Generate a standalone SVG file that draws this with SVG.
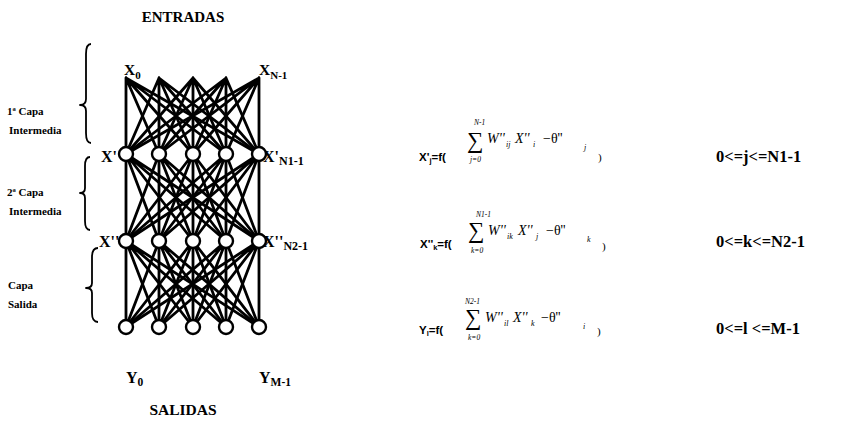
<svg xmlns="http://www.w3.org/2000/svg" width="865" height="424" viewBox="0 0 865 424">
<style>
.t{font-family:"Liberation Serif","Times New Roman",serif;font-weight:bold;fill:#000}
.s{font-family:"Liberation Sans",Arial,sans-serif;font-weight:bold;fill:#000}
.m{font-family:"Liberation Serif","Times New Roman",serif;font-style:italic;fill:#000}
.g{font-family:"Liberation Serif","Times New Roman",serif;fill:#000}
.c{fill:none;stroke:#000;stroke-width:2.8;stroke-linecap:round}
.n{fill:#fff;stroke:#000;stroke-width:2.4}
.b{fill:none;stroke:#000;stroke-width:1.8;stroke-linejoin:round}
</style>
<rect width="865" height="424" fill="#fff"/>
<text class="t" x="183" y="22" font-size="15" text-anchor="middle">ENTRADAS</text>
<text class="t" x="183" y="415" font-size="15.5" text-anchor="middle">SALIDAS</text>

<g id="braces">
<path class="b" d="M91 44 Q86 44 86 54 L86 99 Q86 105 80 105 Q86 105 86 111 L86 133 Q86 143 91 143"/>
<path class="b" d="M90 157 Q85 157 85 166 L85 188 Q85 193 80 193 Q85 193 85 198 L85 221 Q85 230 90 230"/>
<path class="b" d="M98 248 Q92 248 92 257 L92 283 Q92 288 86 288 Q92 288 92 293 L92 313 Q92 322 98 322"/>
<text class="t" x="7" y="115" font-size="11">1ª Capa</text>
<text class="t" x="9" y="134" font-size="11">Intermedia</text>
<text class="t" x="7" y="196" font-size="11">2ª Capa</text>
<text class="t" x="9" y="215" font-size="11">Intermedia</text>
<text class="t" x="8" y="289" font-size="11">Capa</text>
<text class="t" x="8" y="308" font-size="11">Salida</text>
</g>

<g id="connectors">
<path class="c" d="M126 78L126 154M126 78L159 154M126 78L193 154M126 78L226 154M126 78L259 154"/>
<path class="c" d="M159 78L126 154M159 78L159 154M159 78L193 154M159 78L226 154M159 78L259 154"/>
<path class="c" d="M193 78L126 154M193 78L159 154M193 78L193 154M193 78L226 154M193 78L259 154"/>
<path class="c" d="M226 78L126 154M226 78L159 154M226 78L193 154M226 78L226 154M226 78L259 154"/>
<path class="c" d="M259 78L126 154M259 78L159 154M259 78L193 154M259 78L226 154M259 78L259 154"/>
<path class="c" d="M126 154L126 241M126 154L159 241M126 154L193 241M126 154L226 241M126 154L259 241"/>
<path class="c" d="M159 154L126 241M159 154L159 241M159 154L193 241M159 154L226 241M159 154L259 241"/>
<path class="c" d="M193 154L126 241M193 154L159 241M193 154L193 241M193 154L226 241M193 154L259 241"/>
<path class="c" d="M226 154L126 241M226 154L159 241M226 154L193 241M226 154L226 241M226 154L259 241"/>
<path class="c" d="M259 154L126 241M259 154L159 241M259 154L193 241M259 154L226 241M259 154L259 241"/>
<path class="c" d="M126 241L126 327M126 241L159 327M126 241L193 327M126 241L226 327M126 241L259 327"/>
<path class="c" d="M159 241L126 327M159 241L159 327M159 241L193 327M159 241L226 327M159 241L259 327"/>
<path class="c" d="M193 241L126 327M193 241L159 327M193 241L193 327M193 241L226 327M193 241L259 327"/>
<path class="c" d="M226 241L126 327M226 241L159 327M226 241L193 327M226 241L226 327M226 241L259 327"/>
<path class="c" d="M259 241L126 327M259 241L159 327M259 241L193 327M259 241L226 327M259 241L259 327"/>
</g>

<g id="in0"><text class="t" x="124" y="75" font-size="15.5">X<tspan font-size="11" dy="4">0</tspan></text></g>
<g id="in4"><text class="t" x="259" y="75" font-size="15.5">X<tspan font-size="11" dy="4">N-1</tspan></text></g>

<g id="h1">
<text class="t" x="101" y="162" font-size="16">X'</text>
<text class="t" x="263" y="162" font-size="16">X'<tspan font-size="12" dy="3">N1-1</tspan></text>
<circle class="n" cx="126" cy="154" r="7"/><circle class="n" cx="159" cy="154" r="7"/><circle class="n" cx="193" cy="154" r="7"/><circle class="n" cx="226" cy="154" r="7"/><circle class="n" cx="259" cy="154" r="7"/>
</g>
<g id="h2">
<text class="t" x="99" y="247" font-size="16">X''</text>
<text class="t" x="263" y="247" font-size="16">X''<tspan font-size="12" dy="3">N2-1</tspan></text>
<circle class="n" cx="126" cy="241" r="7"/><circle class="n" cx="159" cy="241" r="7"/><circle class="n" cx="193" cy="241" r="7"/><circle class="n" cx="226" cy="241" r="7"/><circle class="n" cx="259" cy="241" r="7"/>
</g>
<g id="out">
<circle class="n" cx="126" cy="327" r="7"/><circle class="n" cx="159" cy="327" r="7"/><circle class="n" cx="193" cy="327" r="7"/><circle class="n" cx="226" cy="327" r="7"/><circle class="n" cx="259" cy="327" r="7"/>
<text class="t" x="126" y="383" font-size="16">Y<tspan font-size="11.5" dy="3">0</tspan></text>
<text class="t" x="259" y="383" font-size="16">Y<tspan font-size="11.5" dy="3">M-1</tspan></text>
</g>

<g id="eq1">
<text class="s" x="419" y="161" font-size="11.5">X'<tspan font-size="7.5" dy="2">j</tspan><tspan dy="-2">=f(</tspan></text>
<text class="m" x="474" y="125" font-size="7.5">N-1</text>
<text class="g" x="467" y="148" font-size="23">∑</text>
<text class="m" x="470" y="162" font-size="7.5">j=0</text>
<text class="m" x="487" y="143" font-size="14">W''</text>
<text class="m" x="506" y="147" font-size="8">ij</text>
<text class="m" x="515" y="143" font-size="14">X''</text>
<text class="m" x="533" y="147" font-size="8">i</text>
<text class="g" x="543" y="143" font-size="14">−θ''</text>
<text class="m" x="584" y="150" font-size="8">j</text>
<text class="g" x="598" y="161" font-size="11">)</text>
<text class="t" x="716" y="162" font-size="16.5">0&lt;=j&lt;=N1-1</text>
</g>
<g id="eq2">
<text class="s" x="420" y="248" font-size="11.5">X''<tspan font-size="7.5" dy="2">k</tspan><tspan dy="-2">=f(</tspan></text>
<text class="m" x="476" y="217" font-size="7.5">N1-1</text>
<text class="g" x="468" y="238" font-size="23">∑</text>
<text class="m" x="471" y="253" font-size="7.5">k=0</text>
<text class="m" x="488" y="235" font-size="14">W''</text>
<text class="m" x="507" y="239" font-size="8">ik</text>
<text class="m" x="518" y="235" font-size="14">X''</text>
<text class="m" x="536" y="239" font-size="8">j</text>
<text class="g" x="546" y="235" font-size="14">−θ''</text>
<text class="m" x="587" y="242" font-size="8">k</text>
<text class="g" x="602" y="250" font-size="11">)</text>
<text class="t" x="716" y="247" font-size="16.5">0&lt;=k&lt;=N2-1</text>
</g>
<g id="eq3">
<text class="s" x="419" y="334" font-size="11.5">Y<tspan font-size="7.5" dy="2">l</tspan><tspan dy="-2">=f(</tspan></text>
<text class="m" x="465" y="304" font-size="7.5">N2-1</text>
<text class="g" x="465" y="325" font-size="23">∑</text>
<text class="m" x="468" y="340" font-size="7.5">k=0</text>
<text class="m" x="485" y="322" font-size="14">W''</text>
<text class="m" x="504" y="326" font-size="8">il</text>
<text class="m" x="513" y="322" font-size="14">X''</text>
<text class="m" x="531" y="326" font-size="8">k</text>
<text class="g" x="541" y="322" font-size="14">−θ''</text>
<text class="m" x="583" y="329" font-size="8">i</text>
<text class="g" x="597" y="335" font-size="11">)</text>
<text class="t" x="716" y="334" font-size="16.5">0&lt;=l &lt;=M-1</text>
</g>
</svg>
